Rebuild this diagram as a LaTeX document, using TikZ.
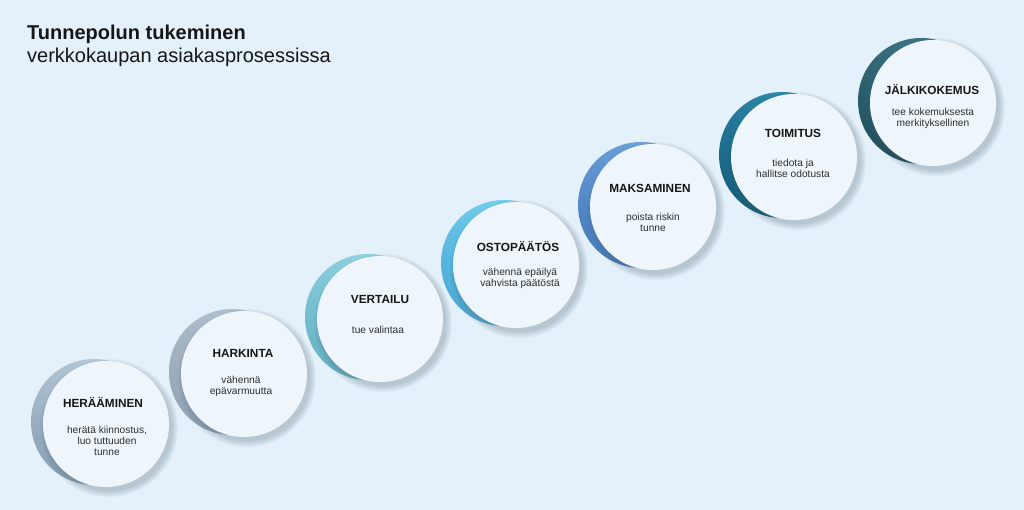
\documentclass[tikz,border=0pt]{standalone}
\usepackage{fontspec}
\setmainfont{Liberation Sans}
\definecolor{bg}{HTML}{E5F1FA}
\definecolor{discfill}{HTML}{EEF6FC}
\definecolor{shadowc}{HTML}{4E6475}
\definecolor{titlec}{HTML}{161616}
\definecolor{subc}{HTML}{2E2E2E}
\definecolor{ca1}{HTML}{B8CAD8}\definecolor{cb1}{HTML}{8CA3B6}
\definecolor{ca2}{HTML}{B3C1CE}\definecolor{cb2}{HTML}{93A4B5}
\definecolor{ca3}{HTML}{92D3E0}\definecolor{cb3}{HTML}{66B4C6}
\definecolor{ca4}{HTML}{76CFEE}\definecolor{cb4}{HTML}{4AABD6}
\definecolor{ca5}{HTML}{6FA3DB}\definecolor{cb5}{HTML}{477CBD}
\definecolor{ca6}{HTML}{2D8AAD}\definecolor{cb6}{HTML}{155E7C}
\definecolor{ca7}{HTML}{3D7688}\definecolor{cb7}{HTML}{21505D}
\tikzset{
  disc/.style={circle, minimum size=126pt, inner sep=0pt, fill=discfill},
  crescentc/.style={circle, minimum size=126pt, inner sep=0pt},
  ttl/.style={font=\fontsize{11.8}{13}\selectfont\bfseries, text=titlec, text height=8.4pt, text depth=0pt, inner sep=0pt, anchor=center},
  subt/.style={font=\fontsize{10.2}{11}\selectfont, text=subc, align=center, inner sep=0pt, anchor=base},
  head/.style={font=\fontsize{20}{24}\selectfont, text=titlec, inner sep=0pt, anchor=base west}
}
\newcommand\stagecirc[5]{%
  \node[crescentc, top color=#4, bottom color=#5, shading angle=-25] (m#1) at (#2-12,#3-2) {};
  \foreach \k in {0,...,9}{\fill[shadowc, opacity=0.03] (#2+3,#3+4) circle[radius={63pt+0.7pt*\k}];}
  \node[disc] (c#1) at (#2,#3) {};
}
\begin{document}
\begin{tikzpicture}[x=1pt,y=-1pt]
\fill[bg] (0,0) rectangle (1024,510);
\useasboundingbox (0,0) rectangle (1024,510);

\node[head, font=\fontsize{20}{24}\selectfont\bfseries] (h1) at (27,39.5) {Tunnepolun tukeminen};
\node[head] (h2) at (27,63) {verkkokaupan asiakasprosessissa};

\stagecirc{1}{106}{424}{ca1}{cb1}
\stagecirc{2}{244}{374}{ca2}{cb2}
\stagecirc{3}{380}{319}{ca3}{cb3}
\stagecirc{4}{516}{265}{ca4}{cb4}
\stagecirc{5}{653}{207}{ca5}{cb5}
\stagecirc{6}{794}{157}{ca6}{cb6}
\stagecirc{7}{933}{103}{ca7}{cb7}

% subtitle nodes are placed by the baseline of their last line
\node[ttl] (t1) at (103,403) {HERÄÄMINEN};
\node[subt] (s1) at (107,455.5) {herätä kiinnostus,\\luo tuttuuden\\tunne};
\node[ttl] (t2) at (243,353) {HARKINTA};
\node[subt] (s2) at (241,394.5) {vähennä\\epävarmuutta};
\node[ttl] (t3) at (380,299) {VERTAILU};
\node[subt] (s3) at (378,333.5) {tue valintaa};
\node[ttl] (t4) at (518,247) {OSTOPÄÄTÖS};
\node[subt] (s4) at (520,286.5) {vähennä epäilyä\\vahvista päätöstä};
\node[ttl] (t5) at (650,188) {MAKSAMINEN};
\node[subt] (s5) at (653,231.5) {poista riskin\\tunne};
\node[ttl] (t6) at (793,133) {TOIMITUS};
\node[subt] (s6) at (793,177.5) {tiedota ja\\hallitse odotusta};
\node[ttl] (t7) at (932,90) {JÄLKIKOKEMUS};
\node[subt] (s7) at (933,126.5) {tee kokemuksesta\\merkityksellinen};
\end{tikzpicture}
\end{document}
